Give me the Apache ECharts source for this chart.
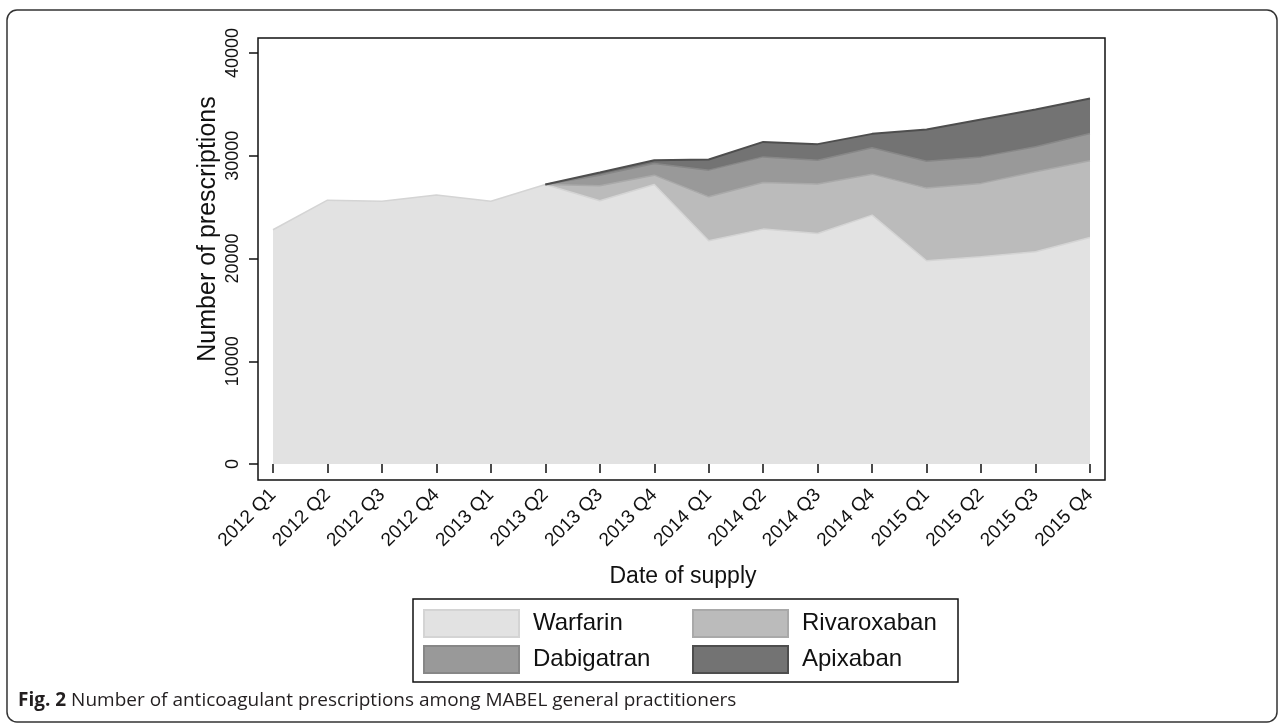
<!DOCTYPE html>
<html>
<head>
<meta charset="utf-8">
<script src="https://cdn.jsdelivr.net/npm/echarts@6/dist/echarts.min.js"></script>
<style>
  html, body { margin: 0; padding: 0; background: #fff; }
  #chart { width: 1284px; height: 724px; }
</style>
</head>
<body>
<div id="chart"></div>
<script>
// quarters on the x axis
const quarters = ['2012 Q1', '2012 Q2', '2012 Q3', '2012 Q4', '2013 Q1', '2013 Q2', '2013 Q3', '2013 Q4',
  '2014 Q1', '2014 Q2', '2014 Q3', '2014 Q4', '2015 Q1', '2015 Q2', '2015 Q3', '2015 Q4'];
// prescriptions per drug (stacked)
const warfarin = [22800, 25680, 25580, 26170, 25580, 27210, 25620, 27210, 21720, 22860, 22440, 24220, 19780, 20170, 20660, 22050];
const rivaroxaban = [null, null, null, null, null, 0, 1460, 900, 4280, 4540, 4800, 3990, 7070, 7140, 7780, 7460];
const dabigatran = [null, null, null, null, null, 0, 1030, 1140, 2600, 2490, 2330, 2560, 2620, 2580, 2430, 2660];
const apixaban = [null, null, null, null, null, 0, 260, 320, 1040, 1460, 1560, 1360, 3090, 3640, 3630, 3400];
const yTicks = [0, 40000, 10000];

const font = 'Liberation Sans, Arial, sans-serif';
const myChart = echarts.init(document.getElementById('chart'));

// fill, border
const colors = {
  Warfarin: ['#e2e2e2', '#d4d4d4'],
  Rivaroxaban: ['#bbbbbb', '#a9a9a9'],
  Dabigatran: ['#999999', '#878787'],
  Apixaban: ['#737373', '#4e4e4e']
};

const makeSeries = (name, data) => ({
  name: name,
  type: 'line',
  stack: 'total',
  data: data,
  symbol: 'none',
  silent: true,
  lineStyle: { color: colors[name][1], width: name === 'Apixaban' ? 2 : 1.5 },
  itemStyle: { color: colors[name][0] },
  areaStyle: { color: colors[name][0], opacity: 1 }
});

// one legend block per entry, laid out as 2 x 2
const makeLegend = (name, left, top) => ({
  left: left,
  top: top,
  icon: 'rect',
  itemWidth: 95,
  itemHeight: 27,
  selectedMode: false,
  padding: 0,
  textStyle: { fontFamily: font, fontSize: 24, color: '#111', padding: [0, 0, 0, 9] },
  data: [{ name: name, itemStyle: { color: colors[name][0], borderColor: colors[name][1], borderWidth: 2 } }]
});

const option = {
  animation: false,
  backgroundColor: '#fff',
  grid: { left: 273, right: 194, top: 53, bottom: 260 },
  legend: [
    makeLegend('Warfarin', 423, 609),
    makeLegend('Rivaroxaban', 692, 609),
    makeLegend('Dabigatran', 423, 645),
    makeLegend('Apixaban', 692, 645)
  ],
  xAxis: {
    type: 'category',
    boundaryGap: false,
    data: quarters,
    offset: 16,
    axisLine: { show: false },
    axisTick: { show: true, length: 9, alignWithLabel: true, lineStyle: { color: '#111', width: 1.5 } },
    axisLabel: { rotate: 45, margin: 12, fontFamily: font, fontSize: 19, color: '#111' }
  },
  yAxis: {
    type: 'value',
    min: yTicks[0],
    max: yTicks[1],
    interval: yTicks[2],
    offset: 15,
    splitLine: { show: false },
    axisLine: { show: false },
    axisTick: { show: true, length: 9, lineStyle: { color: '#111', width: 1.5 } },
    axisLabel: { rotate: 90, margin: 16, fontFamily: font, fontSize: 18, color: '#111', formatter: (v) => String(v) }
  },
  graphic: [
    // outer figure border
    { type: 'rect', shape: { x: 7, y: 10, width: 1270, height: 712, r: 10 }, style: { fill: 'none', stroke: '#333', lineWidth: 1.5 }, z: -10 },
    // plot frame
    { type: 'rect', shape: { x: 258, y: 38, width: 847, height: 442 }, style: { fill: 'none', stroke: '#111', lineWidth: 1.5 }, z: 10 },
    // legend frame
    { type: 'rect', shape: { x: 413, y: 599, width: 545, height: 83 }, style: { fill: 'none', stroke: '#111', lineWidth: 1.5 }, z: 10 },
    {
      type: 'text', x: 208, y: 229, rotation: Math.PI / 2,
      style: { text: 'Number of prescriptions', font: '25px ' + font, fill: '#111', align: 'center', verticalAlign: 'middle' }
    },
    {
      type: 'text', x: 683, y: 577,
      style: { text: 'Date of supply', font: '23px ' + font, fill: '#111', align: 'center', verticalAlign: 'middle' }
    },
    {
      type: 'text', x: 18, y: 701,
      style: {
        text: '{b|Fig. 2} Number of anticoagulant prescriptions among MABEL general practitioners',
        fontFamily: 'Open Sans', fontSize: 19, fill: '#231f20', verticalAlign: 'middle',
        rich: { b: { fontFamily: 'Open Sans', fontSize: 19, fontWeight: 'bold', fill: '#231f20' } }
      }
    }
  ],
  series: [
    makeSeries('Warfarin', warfarin),
    makeSeries('Rivaroxaban', rivaroxaban),
    makeSeries('Dabigatran', dabigatran),
    makeSeries('Apixaban', apixaban)
  ]
};

option && myChart.setOption(option);
</script>
</body>
</html>
